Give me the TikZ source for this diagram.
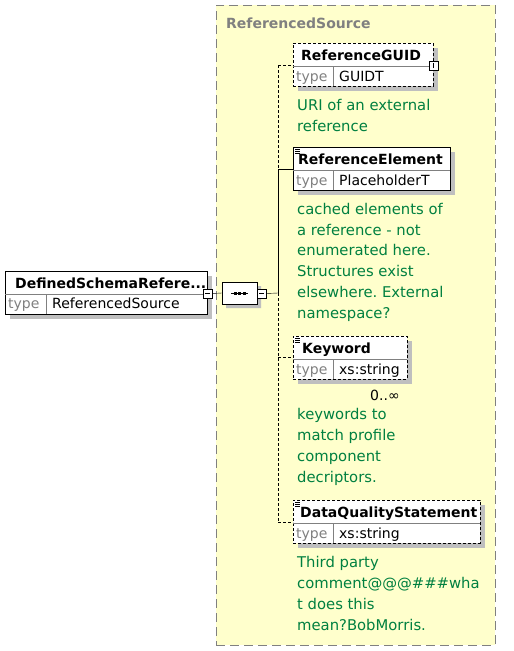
\documentclass[tikz,border=0pt]{standalone}
\usepackage{fontspec}
\setmainfont{DejaVu Sans}
\usetikzlibrary{shadows,shapes.misc}
\frenchspacing

\definecolor{docgreen}{RGB}{0,128,64}
\definecolor{grpfill}{RGB}{255,255,204}

\begin{document}
\begin{tikzpicture}[
  x=1pt, y=-1pt,
  grp/.style={draw=black!50, dash pattern=on 9pt off 5pt, fill=grpfill, anchor=north west, inner sep=0pt},
  grptitle/.style={font=\fontsize{14}{16}\selectfont\bfseries, text=black!50, anchor=base west, inner sep=0pt},
  ebox/.style={draw, fill=white, anchor=north west, inner sep=0pt, minimum height=43pt,
    drop shadow={shadow xshift=5pt, shadow yshift=-5pt, fill=black!25, opacity=1}},
  opt/.style={dash pattern=on 3pt off 2pt},
  rowline/.style={draw=black!50},
  ename/.style={font=\fontsize{14}{16}\selectfont\bfseries, anchor=base west, inner sep=0pt},
  etype/.style={font=\fontsize{14}{16}\selectfont, text=black!50, anchor=base west, inner sep=0pt},
  evalue/.style={font=\fontsize{14}{16}\selectfont, anchor=base west, inner sep=0pt},
  % base anchor of a wrapped text = baseline of its last line
  doc/.style={font=\fontsize{14.8}{20.7}\selectfont, text=docgreen, align=left, anchor=base west, inner sep=0pt},
  pm/.style={draw, fill=white, minimum size=9pt, inner sep=0pt},
  minus/.style={pm, path picture={\draw ([xshift=2pt]path picture bounding box.west) -- ([xshift=-2pt]path picture bounding box.east);}},
  plus/.style={minus, path picture={\draw ([yshift=2pt]path picture bounding box.south) -- ([yshift=-2pt]path picture bounding box.north);}},
  seqbox/.style={draw, fill=white, chamfered rectangle, chamfered rectangle xsep=5pt, chamfered rectangle ysep=5pt,
    minimum width=35pt, minimum height=22pt, inner sep=0pt,
    drop shadow={shadow xshift=4pt, shadow yshift=-4pt, fill=black!25, opacity=1}},
  icon/.style={line width=0.8pt}
]
\useasboundingbox (0,0) rectangle (514,651);

% group ReferencedSource
\node[grp, minimum width=279pt, minimum height=640pt] (grp) at (216,5) {};
\node[grptitle] (grp-title) at (226,28) {ReferencedSource};

% root element
\node[ebox, minimum width=202pt] (root) at (5,271) {};
\draw[rowline] ([yshift=-23pt]root.north west) -- ([yshift=-23pt]root.north east);
\draw[rowline] ([xshift=41pt,yshift=-23pt]root.north west) -- ([xshift=41pt]root.south west);
\node[ename] (root-name) at (15,288) {DefinedSchemaRefere...};
\node[etype] (root-type) at (8,308) {type};
\node[evalue] (root-val) at (52,308) {ReferencedSource};
\node[minus] (root-pm) at (207.5,293.5) {};

% sequence
\node[seqbox] (seq) at (239.5,293) {};
\node[minus] (seq-pm) at (261.5,293.5) {};
\coordinate (seq-l) at (231,293);
\coordinate (seq-r) at (248,293);
\draw (seq-l) -- (seq-r);
\foreach \x in {235,239.5,244}
  \fill (\x-1.5,291.5) rectangle (\x+1.5,294.5);
\draw (root-pm.east) -- (seq.west);

% spine
\coordinate (j-guid) at (278,65);
\coordinate (j-elem) at (278,169);
\coordinate (j-seq) at (278,293);
\coordinate (j-kw) at (278,357);
\coordinate (j-dqs) at (278,522);
\draw (seq-pm.east) -- (j-seq);
\draw[opt] (j-guid) -- (j-elem);
\draw (j-elem) -- (j-seq);
\draw[opt] (j-seq) -- (j-dqs);

% ReferenceGUID
\node[ebox, opt, minimum width=140pt] (guid) at (293,43) {};
\draw[rowline] ([yshift=-23pt]guid.north west) -- ([yshift=-23pt]guid.north east);
\draw[rowline] ([xshift=40pt,yshift=-23pt]guid.north west) -- ([xshift=40pt]guid.south west);
\node[ename] (guid-name) at (301,60) {ReferenceGUID};
\node[etype] (guid-type) at (296,81) {type};
\node[evalue] (guid-val) at (339,81) {GUIDT};
\node[plus] (guid-pm) at (433.5,65.5) {};
\node[doc] (guid-doc) at (297,131) {URI of an external\\reference};
\draw[opt] (j-guid) -- (j-guid -| guid.west);

% ReferenceElement
\node[ebox, minimum width=157pt] (elem) at (293,147) {};
\draw[rowline] ([yshift=-23pt]elem.north west) -- ([yshift=-23pt]elem.north east);
\draw[rowline] ([xshift=40pt,yshift=-23pt]elem.north west) -- ([xshift=40pt]elem.south west);
\foreach \d in {2,4,6}
  \draw[icon] ([xshift=2pt,yshift=-\d pt]elem.north west) -- ++(5,0);
\node[ename] (elem-name) at (298,164) {ReferenceElement};
\node[etype] (elem-type) at (296,185) {type};
\node[evalue] (elem-val) at (339,185) {PlaceholderT};
\node[doc] (elem-doc) at (297,318) {cached elements of\\a reference - not\\enumerated here.\\Structures exist\\elsewhere. External\\namespace?};
\draw (j-elem) -- (j-elem -| elem.west);

% Keyword
\node[ebox, opt, minimum width=114pt] (kw) at (293,336) {};
\draw[rowline] ([yshift=-23pt]kw.north west) -- ([yshift=-23pt]kw.north east);
\draw[rowline] ([xshift=40pt,yshift=-23pt]kw.north west) -- ([xshift=40pt]kw.south west);
\foreach \d in {2,4,6}
  \draw[icon] ([xshift=2pt,yshift=-\d pt]kw.north west) -- ++(5,0);
\node[ename] (kw-name) at (302,353) {Keyword};
\node[etype] (kw-type) at (296,374) {type};
\node[evalue] (kw-val) at (339,374) {xs:string};
\node[evalue] (kw-occ) at (370,400) {0..∞};
\node[doc] (kw-doc) at (297,482) {keywords to\\match profile\\component\\decriptors.};
\draw[opt] (j-kw) -- (j-kw -| kw.west);

% DataQualityStatement
\node[ebox, opt, minimum width=187pt] (dqs) at (293,500) {};
\draw[rowline] ([yshift=-23pt]dqs.north west) -- ([yshift=-23pt]dqs.north east);
\draw[rowline] ([xshift=40pt,yshift=-23pt]dqs.north west) -- ([xshift=40pt]dqs.south west);
\foreach \d in {2,4,6}
  \draw[icon] ([xshift=2pt,yshift=-\d pt]dqs.north west) -- ++(5,0);
\node[ename] (dqs-name) at (300,517) {DataQualityStatement};
\node[etype] (dqs-type) at (296,538) {type};
\node[evalue] (dqs-val) at (339,538) {xs:string};
\node[doc] (dqs-doc) at (297,630) {Third party\\comment@@@\#\#\#wha\\t does this\\mean?BobMorris.};
\draw[opt] (j-dqs) -- (j-dqs -| dqs.west);
\end{tikzpicture}
\end{document}
